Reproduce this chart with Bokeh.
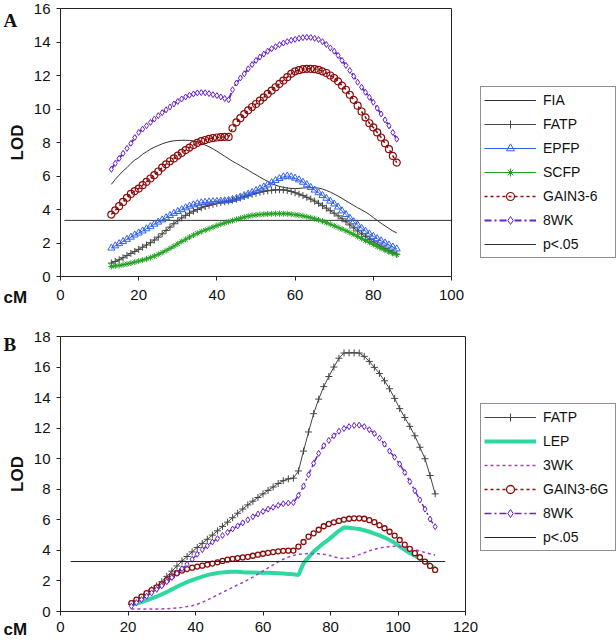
import numpy as np
from bokeh.plotting import figure
from bokeh.models import Legend, LegendItem, Label, FixedTicker, Range1d, LinearAxis
from bokeh.layouts import column
from bokeh.embed import file_html
from bokeh.resources import INLINE

FONT = "Liberation Sans"

# ---------------- Panel A data (cM 13..86) ----------------
xA = list(range(13, 87))
FIA = [5.50, 5.80, 6.05, 6.30, 6.50, 6.75, 6.95, 7.10, 7.30, 7.45,
       7.60, 7.72, 7.82, 7.92, 8.00, 8.06, 8.10, 8.12, 8.13, 8.13,
       8.12, 8.10, 8.05, 7.95, 7.85, 7.75, 7.62, 7.48, 7.33, 7.18,
       7.03, 6.88, 6.75, 6.62, 6.48, 6.35, 6.20, 6.07, 5.93, 5.80,
       5.68, 5.55, 5.45, 5.38, 5.32, 5.28, 5.26, 5.25, 5.26, 5.28,
       5.30, 5.30, 5.30, 5.28, 5.22, 5.14, 5.04, 4.92, 4.80, 4.66,
       4.52, 4.38, 4.24, 4.10, 3.98, 3.85, 3.70, 3.52, 3.35, 3.18,
       3.02, 2.87, 2.72, 2.60]
FATP_A = [0.80, 0.90, 1.00, 1.12, 1.25, 1.38, 1.50, 1.62, 1.75, 1.88,
          2.02, 2.18, 2.35, 2.55, 2.75, 2.95, 3.15, 3.33, 3.50, 3.65,
          3.78, 3.90, 4.00, 4.10, 4.18, 4.25, 4.31, 4.36, 4.41, 4.46,
          4.51, 4.56, 4.62, 4.69, 4.77, 4.84, 4.91, 4.97, 5.03, 5.08,
          5.12, 5.15, 5.17, 5.18, 5.17, 5.14, 5.08, 5.00, 4.92, 4.83,
          4.73, 4.62, 4.50, 4.37, 4.23, 4.08, 3.93, 3.78, 3.62, 3.45,
          3.27, 3.08, 2.90, 2.72, 2.54, 2.38, 2.22, 2.07, 1.93, 1.80,
          1.67, 1.55, 1.44, 1.33]
EPFP = [1.70, 1.83, 1.96, 2.09, 2.22, 2.35, 2.48, 2.60, 2.72, 2.85,
        2.98, 3.12, 3.25, 3.38, 3.51, 3.64, 3.77, 3.88, 3.99, 4.10,
        4.20, 4.28, 4.35, 4.40, 4.43, 4.45, 4.47, 4.48, 4.50, 4.52,
        4.54, 4.60, 4.67, 4.75, 4.83, 4.92, 5.02, 5.13, 5.24, 5.35,
        5.47, 5.60, 5.73, 5.85, 5.95, 6.00, 5.95, 5.87, 5.77, 5.63,
        5.48, 5.32, 5.16, 5.00, 4.84, 4.67, 4.50, 4.33, 4.15, 3.92,
        3.70, 3.48, 3.27, 3.07, 2.88, 2.70, 2.54, 2.40, 2.26, 2.13,
        2.00, 1.88, 1.76, 1.65]
SCFP = [0.60, 0.63, 0.66, 0.70, 0.75, 0.80, 0.86, 0.92, 0.98, 1.05,
        1.13, 1.22, 1.32, 1.43, 1.55, 1.68, 1.81, 1.95, 2.09, 2.22,
        2.35, 2.47, 2.58, 2.68, 2.77, 2.86, 2.95, 3.04, 3.12, 3.20,
        3.27, 3.34, 3.41, 3.48, 3.54, 3.60, 3.64, 3.67, 3.70, 3.72,
        3.73, 3.74, 3.75, 3.75, 3.75, 3.74, 3.72, 3.69, 3.66, 3.62,
        3.57, 3.51, 3.45, 3.38, 3.30, 3.21, 3.12, 3.03, 2.93, 2.83,
        2.73, 2.62, 2.51, 2.39, 2.27, 2.15, 2.03, 1.91, 1.79, 1.68,
        1.57, 1.47, 1.38, 1.30]
GAIN_A = [3.70, 3.95, 4.20, 4.45, 4.70, 4.93, 5.10, 5.25, 5.45, 5.65,
          5.85, 6.05, 6.27, 6.50, 6.70, 6.88, 7.05, 7.22, 7.38, 7.55,
          7.70, 7.85, 7.98, 8.08, 8.15, 8.22, 8.27, 8.30, 8.32, 8.33,
          8.33, 8.85, 9.20, 9.45, 9.70, 9.92, 10.12, 10.30, 10.50, 10.70,
          10.90, 11.10, 11.30, 11.50, 11.70, 11.90, 12.10, 12.25, 12.32, 12.38,
          12.40, 12.40, 12.38, 12.33, 12.25, 12.15, 12.00, 11.85, 11.65, 11.40,
          11.15, 10.85, 10.55, 10.20, 9.85, 9.50, 9.15, 8.90, 8.60, 8.30,
          7.95, 7.60, 7.20, 6.80]
WK8_A = [6.40, 6.75, 7.05, 7.35, 7.65, 7.95, 8.30, 8.60, 8.80, 9.00,
         9.20, 9.40, 9.60, 9.78, 9.95, 10.12, 10.30, 10.45, 10.60, 10.72,
         10.82, 10.90, 10.96, 10.98, 10.97, 10.92, 10.86, 10.80, 10.72, 10.63,
         10.55, 11.15, 11.55, 11.85, 12.10, 12.40, 12.65, 12.90, 13.10, 13.28,
         13.45, 13.60, 13.72, 13.84, 13.94, 14.02, 14.10, 14.16, 14.22, 14.26,
         14.28, 14.27, 14.22, 14.15, 14.02, 13.85, 13.65, 13.45, 13.20, 12.90,
         12.60, 12.30, 11.95, 11.60, 11.30, 11.00, 10.70, 10.40, 10.05, 9.70,
         9.35, 9.00, 8.60, 8.20]
THR_A_X = [1, 100]
THR_A_Y = [3.35, 3.35]

# ---------------- Panel B data (cM 21..111, step 1.5) ----------------
xB = [21 + 1.5 * i for i in range(61)]
FATP_B = [0.48, 0.70, 0.92, 1.16, 1.42, 1.68, 1.95, 2.30, 2.64, 2.98,
          3.30, 3.60, 3.90, 4.19, 4.46, 4.73, 5.00, 5.28, 5.57, 5.85,
          6.14, 6.43, 6.71, 6.98, 7.22, 7.46, 7.70, 7.93, 8.15, 8.38,
          8.56, 8.68, 8.73, 9.20, 10.50, 11.75, 12.95, 13.90, 14.72, 15.38,
          16.00, 16.58, 16.92, 16.93, 16.93, 16.92, 16.70, 16.37, 15.98, 15.58,
          15.10, 14.58, 13.95, 13.28, 12.70, 12.12, 11.50, 10.75, 10.00, 8.90,
          7.70]
LEP = [0.45, 0.52, 0.62, 0.73, 0.86, 0.98, 1.12, 1.28, 1.45, 1.62,
       1.78, 1.92, 2.05, 2.17, 2.28, 2.38, 2.46, 2.52, 2.56, 2.59,
       2.60, 2.60, 2.57, 2.55, 2.55, 2.54, 2.53, 2.53, 2.52, 2.50,
       2.48, 2.46, 2.44, 2.38, 3.15, 3.55, 3.92, 4.20, 4.48, 4.72,
       5.00, 5.28, 5.50, 5.48, 5.44, 5.40, 5.32, 5.22, 5.10, 4.98,
       4.84, 4.68, 4.50, 4.25, 4.03, 3.83, 3.64, 3.45, 3.25, 3.05,
       2.82]
WK3 = [0.17, 0.17, 0.16, 0.16, 0.16, 0.17, 0.17, 0.18, 0.20, 0.23,
       0.27, 0.32, 0.38, 0.47, 0.60, 0.75, 0.92, 1.08, 1.25, 1.42,
       1.58, 1.74, 1.90, 2.07, 2.25, 2.45, 2.65, 2.85, 3.05, 3.25,
       3.42, 3.56, 3.67, 3.74, 3.78, 3.80, 3.80, 3.78, 3.74, 3.68,
       3.58, 3.50, 3.46, 3.50, 3.60, 3.72, 3.85, 3.97, 4.07, 4.15,
       4.21, 4.25, 4.27, 4.25, 4.20, 4.13, 4.05, 3.96, 3.86, 3.77,
       3.70]
GAIN_B = [0.55, 0.78, 0.98, 1.20, 1.40, 1.58, 1.78, 2.05, 2.30, 2.52,
          2.68, 2.78, 2.87, 2.94, 3.00, 3.07, 3.14, 3.22, 3.31, 3.39,
          3.45, 3.50, 3.54, 3.58, 3.65, 3.72, 3.78, 3.84, 3.89, 3.94,
          3.97, 3.98, 3.99, 4.25, 4.55, 4.90, 5.12, 5.35, 5.58, 5.73,
          5.84, 5.93, 6.02, 6.07, 6.10, 6.10, 6.07, 5.98, 5.85, 5.65,
          5.45, 5.22, 4.97, 4.68, 4.38, 4.10, 3.82, 3.55, 3.27, 2.98,
          2.72]
WK8_B = [0.35, 0.58, 0.78, 1.00, 1.22, 1.45, 1.68, 1.95, 2.22, 2.50,
         2.80, 3.10, 3.42, 3.75, 4.05, 4.30, 4.55, 4.77, 4.98, 5.18,
         5.40, 5.60, 5.80, 6.00, 6.20, 6.38, 6.55, 6.70, 6.82, 6.95,
         7.05, 7.10, 7.13, 7.60, 8.20, 8.95, 9.70, 10.35, 10.85, 11.20,
         11.50, 11.80, 11.98, 12.10, 12.18, 12.20, 12.10, 11.90, 11.65, 11.35,
         10.95, 10.50, 10.10, 9.65, 9.10, 8.50, 7.90, 7.30, 6.70, 6.05,
         5.55]
THR_B_X = [3, 114]
THR_B_Y = [3.27, 3.27]

XTICKS_A = [0, 20, 40, 60, 80, 100]
YTICKS_A = [0, 2, 4, 6, 8, 10, 12, 14, 16]
XTICKS_B = [0, 20, 40, 60, 80, 100, 120]
YTICKS_B = [0, 2, 4, 6, 8, 10, 12, 14, 16, 18]

C_FIA = "#333333"
C_FATP = "#444444"
C_EPFP = "#3060F0"
C_SCFP = "#22A022"
C_GAIN = "#8B0A0A"
C_8WK = "#6622CC"
C_LEP = "#2ED8A0"
C_3WK = "#A040C8"
C_AX = "#222222"

W = 616


def make_fig(height, xmax, ymax, px_x0, px_xmax, px_ytop, px_y0,
             xticks, yticks, standoff):
    """Frame covers the whole figure; axes are pinned at x=0 / y=0."""
    sx = (px_xmax - px_x0) / xmax
    sy = (px_y0 - px_ytop) / ymax
    x_lo = -px_x0 / sx
    x_hi = x_lo + W / sx
    y_hi = ymax + px_ytop / sy
    y_lo = y_hi - height / sy
    p = figure(width=W, height=height, x_range=Range1d(x_lo, x_hi),
               y_range=Range1d(y_lo, y_hi), output_backend="svg",
               toolbar_location=None, x_axis_location=None, y_axis_location=None,
               min_border=0)
    p.xgrid.visible = False
    p.ygrid.visible = False
    p.outline_line_color = None

    xax = LinearAxis(fixed_location=0, bounds=(0, xmax), ticker=FixedTicker(ticks=xticks))
    yax = LinearAxis(fixed_location=0, bounds=(0, ymax), ticker=FixedTicker(ticks=yticks))
    for ax in (xax, yax):
        ax.axis_line_color = C_AX
        ax.axis_line_width = 1
        ax.major_tick_line_color = C_AX
        ax.major_tick_out = 4
        ax.major_tick_in = 0
        ax.minor_tick_out = 0
        ax.minor_tick_in = 0
        ax.major_label_text_font = FONT
        ax.major_label_text_font_size = "15px"
        ax.major_label_text_color = "#111111"
    xax.major_label_standoff = standoff
    yax.major_label_standoff = 6
    yax.axis_label = "LOD"
    yax.axis_label_text_font = FONT
    yax.axis_label_text_font_style = "bold"
    yax.axis_label_text_font_size = "17px"
    yax.axis_label_standoff = 4
    yax.axis_label_text_color = "#111111"
    p.add_layout(xax, "below")
    p.add_layout(yax, "left")

    # plot-area border (top and right) as tick-less axes
    top = LinearAxis(fixed_location=ymax, bounds=(0, xmax), ticker=FixedTicker(ticks=[]),
                     axis_line_color=C_AX, major_label_text_font_size="0px")
    right = LinearAxis(fixed_location=xmax, bounds=(0, ymax), ticker=FixedTicker(ticks=[]),
                       axis_line_color=C_AX, major_label_text_font_size="0px")
    p.add_layout(top, "above")
    p.add_layout(right, "right")
    return p


def style_legend(items, loc):
    lg = Legend(items=items, location=loc)
    lg.margin = 0
    lg.padding = 3
    lg.spacing = 4
    lg.glyph_width = 52
    lg.glyph_height = 20
    lg.label_height = 20
    lg.label_width = 69
    lg.label_standoff = 7
    lg.label_text_font = FONT
    lg.label_text_font_size = "14px"
    lg.label_text_color = "#111111"
    lg.border_line_color = C_AX
    lg.border_line_width = 1
    lg.background_fill_color = "white"
    lg.background_fill_alpha = 1
    return lg


# ---------------- Panel A ----------------
HA = 318
pA = make_fig(HA, 100, 16, 60, 451, 8, 276, XTICKS_A, YTICKS_A, 9)

r_thr = pA.line(THR_A_X, THR_A_Y, line_color="#333333", line_width=1)
r_fia = pA.line(xA, FIA, line_color=C_FIA, line_width=1)
r_fatp_l = pA.line(xA, FATP_A, line_color=C_FATP, line_width=1)
r_fatp_m = pA.scatter(xA, FATP_A, marker="cross", size=7, line_color=C_FATP, line_width=1)
r_epfp_l = pA.line(xA, EPFP, line_color=C_EPFP, line_width=1)
r_epfp_m = pA.scatter(xA, EPFP, marker="triangle", size=7, line_color=C_EPFP,
                      fill_color=None, line_width=1)
r_scfp_l = pA.line(xA, SCFP, line_color=C_SCFP, line_width=1)
r_scfp_m = pA.scatter(xA, SCFP, marker="asterisk", size=6, line_color=C_SCFP, line_width=1)
r_gain_l = pA.line(xA, GAIN_A, line_color=C_GAIN, line_width=1.5, line_dash="3 3")
r_gain_m = pA.scatter(xA, GAIN_A, marker="circle", size=7, line_color=C_GAIN,
                      fill_color=None, line_width=1.2)
r_8wk_l = pA.line(xA, WK8_A, line_color=C_8WK, line_width=2, line_dash="7 3 2 3")
r_8wk_m = pA.scatter(xA, WK8_A, marker="diamond", size=6, line_color=C_8WK,
                     fill_color="white", line_width=1)

itemsA = [
    LegendItem(label="FIA", renderers=[r_fia]),
    LegendItem(label="FATP", renderers=[r_fatp_l, r_fatp_m]),
    LegendItem(label="EPFP", renderers=[r_epfp_l, r_epfp_m]),
    LegendItem(label="SCFP", renderers=[r_scfp_l, r_scfp_m]),
    LegendItem(label="GAIN3-6", renderers=[r_gain_l, r_gain_m]),
    LegendItem(label="8WK", renderers=[r_8wk_l, r_8wk_m]),
    LegendItem(label="p<.05", renderers=[r_thr]),
]
pA.add_layout(style_legend(itemsA, (480, HA - 258)))

pA.add_layout(Label(x=3, y=HA - 20, x_units="screen", y_units="screen", text="A",
                    text_font="Liberation Serif", text_font_style="bold",
                    text_font_size="19px", text_baseline="alphabetic", text_color="#111111"))
pA.add_layout(Label(x=3, y=HA - 297, x_units="screen", y_units="screen", text="cM",
                    text_font=FONT, text_font_style="bold", text_font_size="17px",
                    text_baseline="middle", text_color="#111111"))

# ---------------- Panel B ----------------
HB = 322
pB = make_fig(HB, 120, 18, 60, 465, 18, 293, XTICKS_B, YTICKS_B, 6)

r_fatpB_l = pB.line(xB, FATP_B, line_color=C_FATP, line_width=1)
r_fatpB_m = pB.scatter(xB, FATP_B, marker="cross", size=7, line_color=C_FATP, line_width=1)
r_lep = pB.line(xB, LEP, line_color=C_LEP, line_width=4)
r_3wk = pB.line(xB, WK3, line_color=C_3WK, line_width=1.5, line_dash="3 3")
r_gainB_l = pB.line(xB, GAIN_B, line_color=C_GAIN, line_width=1.5, line_dash="3 3")
r_gainB_m = pB.scatter(xB, GAIN_B, marker="circle", size=5, line_color=C_GAIN,
                       fill_color="white", line_width=1.3)
r_8wkB_l = pB.line(xB, WK8_B, line_color=C_8WK, line_width=1.5, line_dash="7 3 2 3")
r_8wkB_m = pB.scatter(xB, WK8_B, marker="diamond", size=6, line_color=C_8WK,
                      fill_color="white", line_width=1)
r_thrB = pB.line(THR_B_X, THR_B_Y, line_color="#222222", line_width=1)

itemsB = [
    LegendItem(label="FATP", renderers=[r_fatpB_l, r_fatpB_m]),
    LegendItem(label="LEP", renderers=[r_lep]),
    LegendItem(label="3WK", renderers=[r_3wk]),
    LegendItem(label="GAIN3-6G", renderers=[r_gainB_l, r_gainB_m]),
    LegendItem(label="8WK", renderers=[r_8wkB_l, r_8wkB_m]),
    LegendItem(label="p<.05", renderers=[r_thrB]),
]
pB.add_layout(style_legend(itemsB, (480, HB - 233)))

pB.add_layout(Label(x=3, y=HB - 26, x_units="screen", y_units="screen", text="B",
                    text_font="Liberation Serif", text_font_style="bold",
                    text_font_size="19px", text_baseline="alphabetic", text_color="#111111"))
pB.add_layout(Label(x=3, y=HB - 311, x_units="screen", y_units="screen", text="cM",
                    text_font=FONT, text_font_style="bold", text_font_size="17px",
                    text_baseline="middle", text_color="#111111"))

layout = column(pA, pB)
open("out.html", "w").write(file_html(layout, INLINE))
